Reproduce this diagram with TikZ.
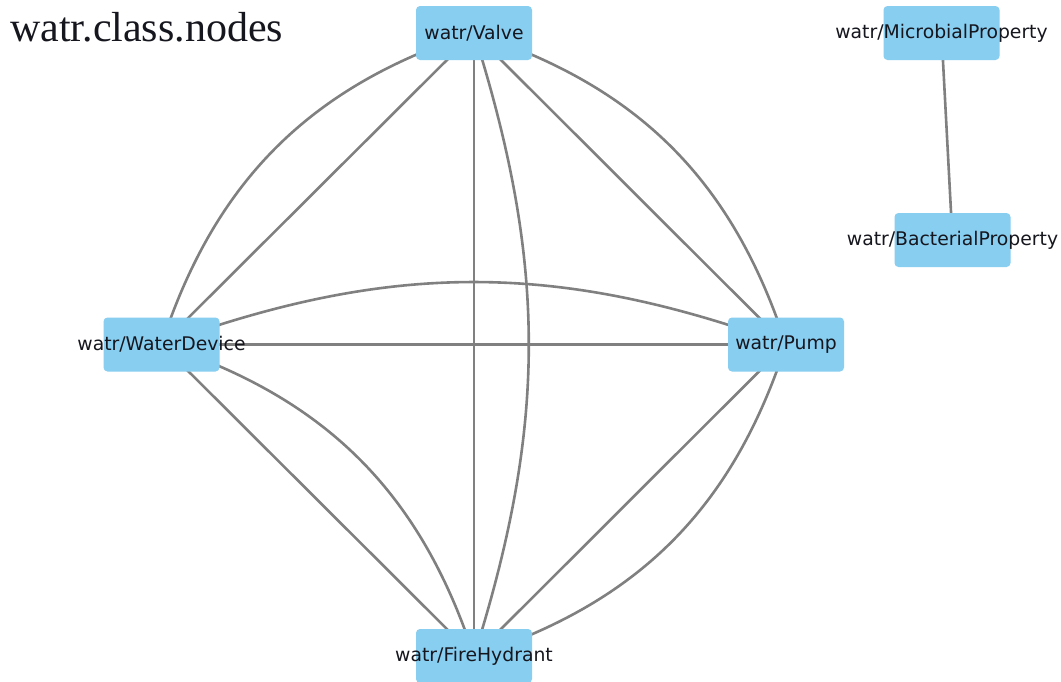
\documentclass[tikz,border=0pt]{standalone}
\usepackage{fontspec}
\usetikzlibrary{backgrounds}
\newfontfamily\dvsans{DejaVu Sans}
\newfontfamily\titleserif{Liberation Serif}
\definecolor{boxblue}{RGB}{135,206,240}
\definecolor{edgegray}{RGB}{128,128,128}
\definecolor{labelink}{RGB}{22,22,30}
\tikzset{
  cls/.style={fill=boxblue, rounded corners=4pt, minimum width=116pt, minimum height=54pt,
    inner sep=0pt, text=labelink, font=\dvsans\fontsize{18.8}{22}\selectfont},
  link/.style={draw=edgegray, line width=2.6pt}
}
\newcommand{\lbl}[1]{\makebox[0pt][c]{#1}}
\begin{document}
\begin{tikzpicture}[x=1pt,y=-1pt]
\useasboundingbox (0,0) rectangle (1061,681);
\node[anchor=base west, inner sep=0pt, font=\titleserif\fontsize{42}{48}\selectfont, text=labelink] (title) at (10,41.5) {watr.class.nodes};
\node[cls] (valve) at (474,33) {\lbl{watr/Valve}};
\node[cls] (wd) at (161.5,344.5) {\lbl{watr/WaterDevice}};
\node[cls] (pump) at (786,344.5) {\lbl{watr/Pump}};
\node[cls] (fh) at (474,656) {\lbl{watr/FireHydrant}};
\node[cls] (micro) at (941.5,33) {\lbl{watr/MicrobialProperty}};
\node[cls] (bact) at (952.5,240) {\lbl{watr/BacterialProperty}};
\begin{pgfonlayer}{background}
\fill[white] (0,0) rectangle (1061,681);
\draw[link] (valve.center) -- (wd.center);
\draw[link] (valve.center) to[bend right=27] (wd.center);
\draw[link] (valve.center) -- (pump.center);
\draw[link] (valve.center) to[bend left=27] (pump.center);
\draw[link] (valve.center) -- (fh.center);
\draw[link] (valve.center) to[bend left=17.5] (fh.center);
\draw[link] (wd.center) -- (pump.center);
\draw[link] (wd.center) to[bend left=20] (pump.center);
\draw[link] (wd.center) -- (fh.center);
\draw[link] (wd.center) to[bend left=27] (fh.center);
\draw[link] (pump.center) -- (fh.center);
\draw[link] (pump.center) to[bend left=27] (fh.center);
\draw[link] (micro.center) -- (bact.center);
\end{pgfonlayer}
\end{tikzpicture}
\end{document}
